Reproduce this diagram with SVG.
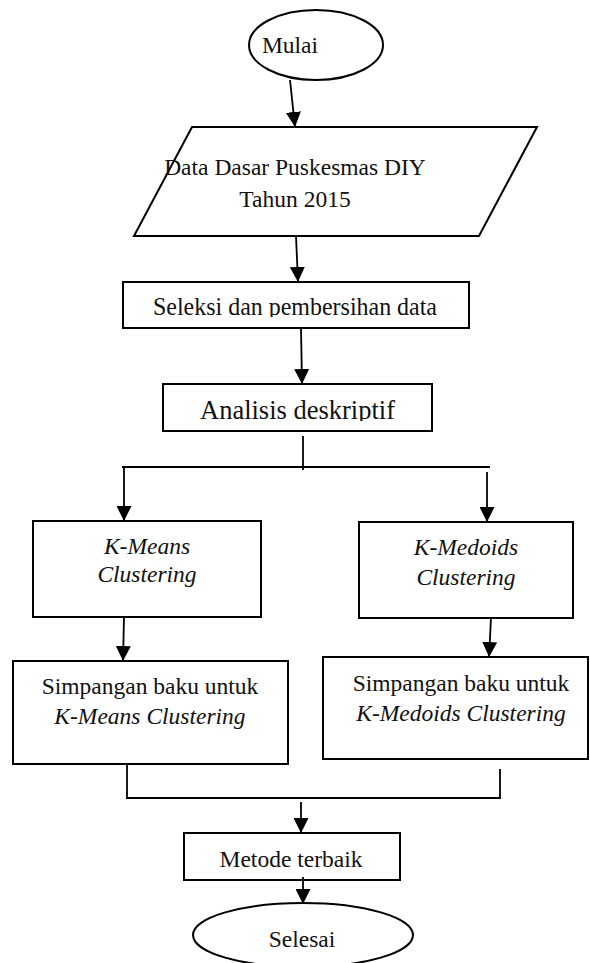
<svg xmlns="http://www.w3.org/2000/svg" width="590" height="963" viewBox="0 0 590 963">
<style>
.shape{fill:#fff;stroke:#000;stroke-width:2}
.conn{fill:none;stroke:#000;stroke-width:1.8}
text{font-family:"Liberation Serif","Times New Roman",serif;font-size:23.5px;fill:#111}
.c{text-anchor:middle}
.i{font-style:italic}
</style>
<defs>
<marker id="arr" markerUnits="userSpaceOnUse" markerWidth="15" markerHeight="15" refX="15" refY="7.5" orient="auto">
<path d="M0,0 L15,7.5 L0,15 z" fill="#000"/>
</marker>
<clipPath id="clipSel"><rect x="120" y="280" width="360" height="37"/></clipPath>
<clipPath id="clipAna"><rect x="160" y="380" width="280" height="41"/></clipPath>
</defs>
<g id="mulai">
<ellipse class="shape" cx="316" cy="45" rx="67" ry="35"/>
<text class="c" x="290" y="53">Mulai</text>
</g>
<g id="data">
<polygon class="shape" points="192,127 537,127 479,236 134,236"/>
<text class="c" x="295" y="175">Data Dasar Puskesmas DIY</text>
<text class="c" x="295" y="207">Tahun 2015</text>
</g>
<g id="seleksi">
<rect class="shape" x="123" y="282" width="346" height="46"/>
<text x="153" y="315" style="font-size:24.5px" textLength="284" lengthAdjust="spacingAndGlyphs" clip-path="url(#clipSel)">Seleksi dan pembersihan data</text>
</g>
<g id="analisis">
<rect class="shape" x="163" y="384" width="269" height="47"/>
<text x="200" y="419" style="font-size:26.5px" textLength="195" lengthAdjust="spacingAndGlyphs" clip-path="url(#clipAna)">Analisis deskriptif</text>
</g>
<g id="kmeans">
<rect class="shape" x="33" y="521" width="228" height="96"/>
<text class="c i" x="147" y="554">K-Means</text>
<text class="c i" x="147" y="582">Clustering</text>
</g>
<g id="kmedoids">
<rect class="shape" x="359" y="522" width="214" height="96"/>
<text class="c i" x="466" y="555">K-Medoids</text>
<text class="c i" x="466" y="585">Clustering</text>
</g>
<g id="sd-kmeans">
<rect class="shape" x="13" y="661" width="275" height="103"/>
<text class="c" x="150" y="694">Simpangan baku untuk</text>
<text class="c i" x="150" y="724">K-Means Clustering</text>
</g>
<g id="sd-kmedoids">
<rect class="shape" x="323" y="657" width="265" height="102"/>
<text class="c" x="461" y="691">Simpangan baku untuk</text>
<text class="c i" x="461" y="721">K-Medoids Clustering</text>
</g>
<g id="metode">
<rect class="shape" x="184" y="833" width="216" height="47"/>
<text class="c" x="291" y="867">Metode terbaik</text>
</g>
<g id="selesai">
<ellipse class="shape" cx="303" cy="935" rx="110" ry="32"/>
<text class="c" x="302" y="947">Selesai</text>
</g>
<g id="connectors">
<line class="conn" x1="290" y1="80" x2="295" y2="127" marker-end="url(#arr)"/>
<line class="conn" x1="296" y1="236" x2="298" y2="282" marker-end="url(#arr)"/>
<line class="conn" x1="301" y1="328" x2="302" y2="384" marker-end="url(#arr)"/>
<line class="conn" x1="303" y1="436" x2="303" y2="470"/>
<line class="conn" x1="122" y1="467" x2="490" y2="467"/>
<line class="conn" x1="124" y1="467" x2="124" y2="521" marker-end="url(#arr)"/>
<line class="conn" x1="487" y1="472" x2="487" y2="522" marker-end="url(#arr)"/>
<line class="conn" x1="124" y1="617" x2="123" y2="661" marker-end="url(#arr)"/>
<line class="conn" x1="491" y1="618" x2="489" y2="657" marker-end="url(#arr)"/>
<polyline class="conn" points="127,764 127,798 501,798"/>
<line class="conn" x1="500" y1="769" x2="500" y2="799"/>
<line class="conn" x1="301" y1="802" x2="301" y2="833" marker-end="url(#arr)"/>
<line class="conn" x1="303" y1="877" x2="303" y2="904" marker-end="url(#arr)"/>
</g>
</svg>
